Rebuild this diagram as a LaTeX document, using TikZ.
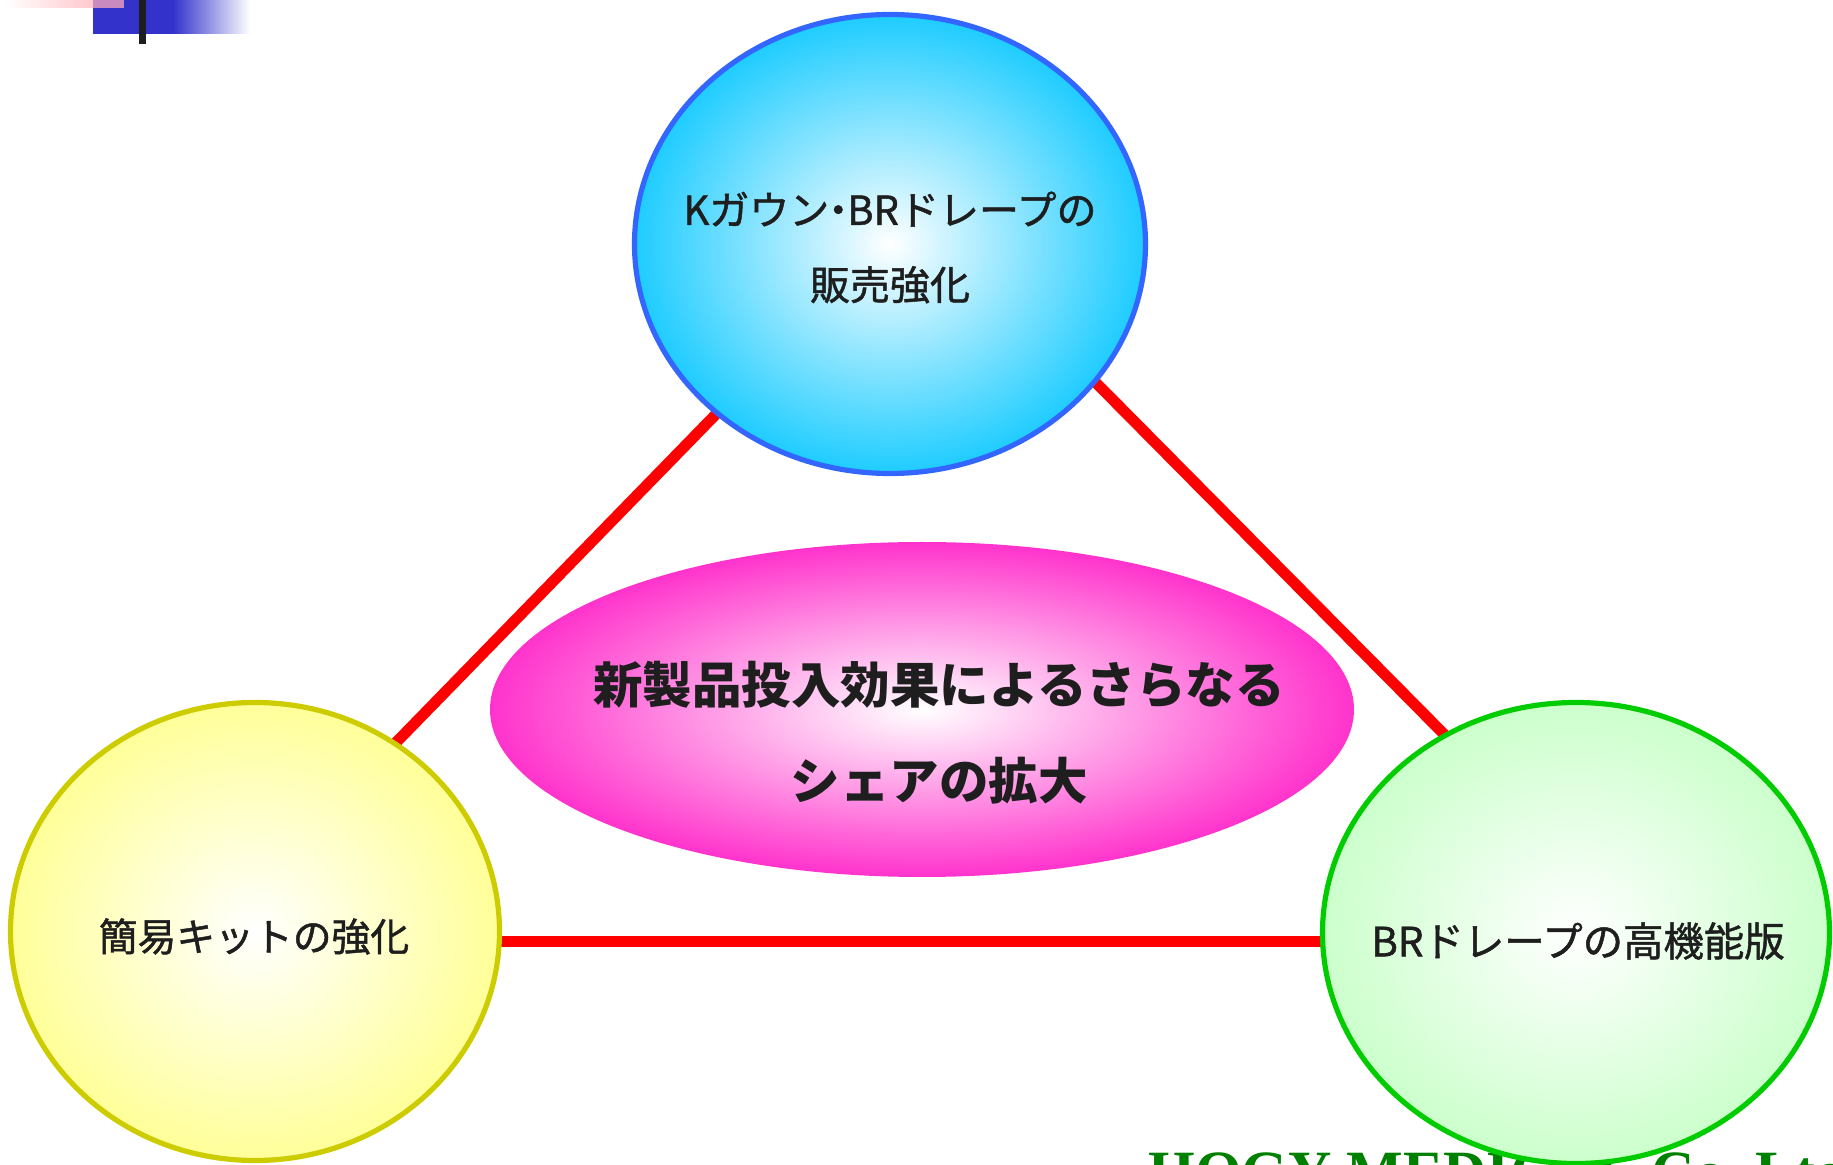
\documentclass[tikz,border=0pt]{standalone}
\usepackage{fontspec}
\usetikzlibrary{shapes.geometric,calc}
\newfontfamily\jp[FakeBold=1.2]{Noto Sans CJK JP}
\newfontfamily\jpb{Noto Sans CJK JP}
\newfontfamily\corpfont{Liberation Serif}
\definecolor{topfill}{RGB}{30,204,255}
\definecolor{topline}{RGB}{51,102,255}
\definecolor{midfill}{RGB}{255,51,204}
\definecolor{yelfill}{RGB}{255,255,153}
\definecolor{yelline}{RGB}{204,204,0}
\definecolor{grnfill}{RGB}{204,255,204}
\definecolor{grnline}{RGB}{0,204,0}
\definecolor{txt}{RGB}{30,30,30}
\definecolor{corpgreen}{RGB}{0,128,0}
\definecolor{barblue}{RGB}{51,51,204}
\definecolor{barpink}{RGB}{255,200,205}
\definecolor{barmix}{RGB}{201,138,192}
\pgfdeclarelayer{background}
\pgfsetlayers{background,main}
\tikzset{
  bubble/.style={ellipse, inner sep=0pt, line width=2.6pt, inner color=white},
  lbl/.style={align=center, inner sep=0pt, text=txt},
  link/.style={draw=red, line width=5.5pt},
}
\begin{document}
\begin{tikzpicture}[x=0.5pt,y=-0.5pt]
\useasboundingbox (0,0) rectangle (1833,1165);
\clip (0,0) rectangle (1833,1165);

% top-left decoration
\fill[barblue] (93,0) rectangle (174,34);
\shade[left color=barblue, right color=white] (173,0) rectangle (250,34);
\shade[left color=white, right color=barpink] (5,0) rectangle (93,8);
\fill[barmix] (93,0) rectangle (124,8);
\fill[txt] (139,0) rectangle (146,44);

% company name (partly hidden)
\node[anchor=base west, inner sep=0pt, text=corpgreen,
      font=\corpfont\bfseries\fontsize{30pt}{36pt}\selectfont] (corp) at (1148,1192) {HOGY MEDICAL Co.,Ltd.};

% bubbles
\node[bubble, draw=topline, outer color=topfill, minimum width=255.5pt, minimum height=229.5pt] (top) at (890,244) {};
\node[ellipse, inner sep=0pt, inner color=white, outer color=midfill, minimum width=432pt, minimum height=167.5pt] (mid) at (922,709.5) {};
\node[bubble, draw=yelline, outer color=yelfill, minimum width=244.5pt, minimum height=229pt] (yel) at (255,931.5) {};
\node[bubble, draw=grnline, outer color=grnfill, minimum width=253.5pt, minimum height=230.5pt] (grn) at (1576,933) {};

% labels
\node[lbl, font=\jp\fontsize{20pt}{37.5pt}\selectfont] (toptxt) at (890,247.5)
  {Kガウン\makebox[0.45em]{・}BRドレープの\\販売強化};
\node[lbl, font=\jpb\bfseries\fontsize{24.75pt}{48pt}\selectfont] (midtxt) at (939,733)
  {新製品投入効果によるさらなる\\シェアの拡大};
\node[lbl, font=\jp\fontsize{19.4pt}{24pt}\selectfont] (yeltxt) at (254,936.5) {簡易キットの強化};
\node[lbl, font=\jp\fontsize{20.2pt}{24pt}\selectfont] (grntxt) at (1578,941) {BRドレープの高機能版};

% connectors behind bubbles
\begin{pgfonlayer}{background}
\draw[link] ($(top.center)+(-90,84)$) -- ($(yel.center)+(46,-91.5)$);
\draw[link] ($(top.center)+(124,56)$) -- ($(grn.center)+(-47,-113)$);
\draw[link] ($(yel.center)+(145,10.5)$) -- ($(grn.center)+(-176,9)$);
\end{pgfonlayer}
\end{tikzpicture}
\end{document}
